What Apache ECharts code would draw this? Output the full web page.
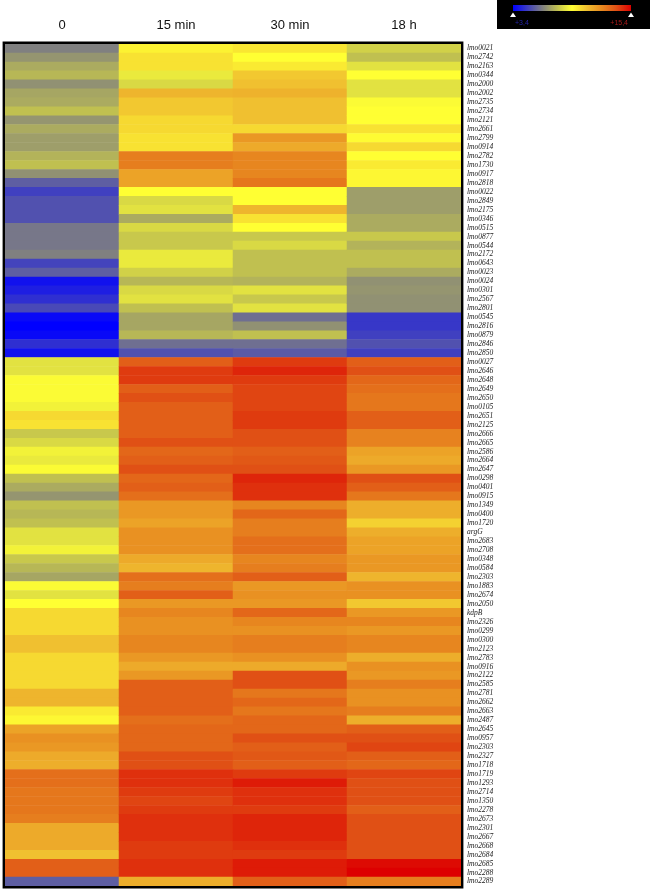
<!DOCTYPE html>
<html>
<head>
<meta charset="utf-8">
<script src="https://cdn.jsdelivr.net/npm/echarts@6/dist/echarts.min.js"></script>
<style>
  html, body { margin: 0; padding: 0; background: #fff; }
  #chart { width: 650px; height: 892px; }
</style>
</head>
<body>
<div id="chart"></div>
<script>
// time points (columns)
const times = ['0', '15 min', '30 min', '18 h'];

// genes (rows, top to bottom)
const genes = [
  'lmo0021', 'lmo2742', 'lmo2163', 'lmo0344', 'lmo2000', 'lmo2002', 'lmo2735', 'lmo2734', 'lmo2121', 'lmo2661',
  'lmo2799', 'lmo0914', 'lmo2782', 'lmo1730', 'lmo0917', 'lmo2818', 'lmo0022', 'lmo2849', 'lmo2175', 'lmo0346',
  'lmo0515', 'lmo0877', 'lmo0544', 'lmo2172', 'lmo0643', 'lmo0023', 'lmo0024', 'lmo0301', 'lmo2567', 'lmo2801',
  'lmo0545', 'lmo2816', 'lmo0879', 'lmo2846', 'lmo2850', 'lmo0027', 'lmo2646', 'lmo2648', 'lmo2649', 'lmo2650',
  'lmo0105', 'lmo2651', 'lmo2125', 'lmo2666', 'lmo2665', 'lmo2586', 'lmo2664', 'lmo2647', 'lmo0298', 'lmo0401',
  'lmo0915', 'lmo1349', 'lmo0400', 'lmo1720', 'argG', 'lmo2683', 'lmo2708', 'lmo0348', 'lmo0584', 'lmo2303',
  'lmo1883', 'lmo2674', 'lmo2050', 'kdpB', 'lmo2326', 'lmo0299', 'lmo0300', 'lmo2123', 'lmo2783', 'lmo0916',
  'lmo2122', 'lmo2585', 'lmo2781', 'lmo2662', 'lmo2663', 'lmo2487', 'lmo2645', 'lmo0957', 'lmo2303', 'lmo2327',
  'lmo1718', 'lmo1719', 'lmo1293', 'lmo2714', 'lmo1350', 'lmo2278', 'lmo2673', 'lmo2301', 'lmo2667', 'lmo2668',
  'lmo2684', 'lmo2685', 'lmo2288', 'lmo2289'
];

// expression values per time point (scale +3,4 .. +15,4)
const t0 = [
  6.4, 6.9, 7.4, 7.7, 6.8, 7.3, 7.4, 7.9, 6.9, 7.4,
  7.1, 7.1, 7.6, 7.9, 6.8, 5.6, 4.9, 5.3, 5.3, 5.3,
  6.2, 6.2, 6.2, 6.4, 5.0, 5.6, 3.8, 4.1, 4.5, 5.1,
  3.6, 3.4, 3.6, 4.5, 3.8, 8.7, 8.7, 9.3, 9.3, 9.3,
  9.1, 10.3, 10.1, 8.1, 8.5, 9.1, 8.9, 9.3, 7.9, 7.4,
  6.9, 7.9, 7.7, 7.9, 8.7, 8.7, 9.1, 8.1, 7.7, 7.3,
  9.3, 8.7, 9.4, 10.3, 10.3, 10.3, 10.9, 10.9, 10.3, 10.3,
  10.3, 10.3, 11.2, 11.2, 9.9, 9.6, 11.7, 12.2, 12.0, 11.5,
  11.4, 13.1, 13.1, 12.9, 12.9, 12.9, 12.7, 11.5, 11.5, 11.5,
  10.9, 13.5, 13.5, 5.6
];
const t15 = [
  9.7, 10.1, 10.1, 8.9, 8.5, 11.2, 10.7, 10.7, 10.3, 10.3,
  10.1, 10.1, 12.7, 12.7, 11.7, 11.7, 9.4, 8.5, 8.7, 7.4,
  8.5, 8.1, 8.1, 8.9, 8.9, 8.3, 7.7, 8.5, 8.7, 7.9,
  7.3, 7.3, 7.7, 6.0, 5.3, 13.5, 14.3, 14.3, 13.5, 13.9,
  13.5, 13.5, 13.5, 13.5, 13.9, 13.3, 13.5, 13.9, 13.3, 13.5,
  13.1, 12.0, 12.0, 11.7, 12.2, 12.2, 12.2, 11.5, 11.2, 13.1,
  12.7, 13.5, 12.0, 12.5, 12.2, 12.2, 12.5, 12.5, 12.0, 11.5,
  12.0, 13.5, 13.5, 13.5, 13.5, 13.1, 13.3, 13.3, 13.3, 13.9,
  13.9, 14.5, 14.5, 14.3, 14.1, 14.3, 14.5, 14.5, 14.5, 14.3,
  14.3, 14.5, 14.5, 11.4
];
const t30 = [
  10.0, 9.4, 9.9, 10.7, 10.9, 11.3, 10.9, 10.9, 10.9, 10.3,
  12.0, 11.5, 12.5, 12.5, 12.5, 12.9, 9.4, 9.4, 11.2, 10.1,
  9.4, 8.1, 8.5, 7.9, 7.9, 7.9, 7.6, 8.7, 8.1, 8.7,
  6.0, 6.8, 7.9, 6.0, 5.5, 14.3, 14.7, 14.3, 14.1, 14.1,
  14.1, 14.3, 14.3, 13.9, 13.9, 13.5, 13.7, 13.9, 14.7, 14.5,
  14.5, 12.5, 13.3, 12.7, 12.7, 13.1, 13.1, 12.5, 12.7, 13.5,
  12.0, 12.2, 12.0, 13.3, 12.5, 12.2, 12.7, 12.7, 12.2, 11.5,
  13.9, 13.9, 12.9, 13.3, 12.9, 13.3, 13.3, 13.9, 13.5, 13.7,
  13.5, 14.3, 14.9, 14.5, 14.5, 14.3, 14.7, 14.7, 14.7, 14.5,
  14.3, 14.9, 14.9, 13.5
];
const t18h = [
  8.3, 7.9, 8.7, 9.4, 8.7, 8.7, 9.3, 9.4, 9.4, 10.1,
  9.5, 10.3, 9.4, 9.9, 9.6, 9.6, 7.1, 7.1, 7.1, 7.4,
  7.4, 8.1, 7.6, 7.9, 7.9, 7.4, 6.8, 6.9, 6.8, 6.8,
  4.7, 4.7, 4.9, 5.3, 4.9, 13.5, 13.9, 13.3, 13.1, 12.9,
  12.9, 13.5, 13.5, 12.6, 12.6, 11.7, 11.5, 12.0, 13.9, 13.5,
  12.9, 11.4, 11.4, 10.5, 11.4, 11.7, 11.7, 12.0, 12.0, 11.2,
  12.2, 12.2, 10.7, 12.0, 12.5, 12.0, 12.5, 12.5, 11.4, 12.2,
  12.0, 12.7, 12.2, 12.2, 12.7, 11.4, 13.5, 13.9, 14.1, 13.5,
  13.3, 14.1, 13.9, 13.9, 13.9, 13.5, 13.9, 13.9, 13.9, 13.9,
  13.9, 15.2, 15.4, 12.7
];

const scaleMin = 3.4;
const scaleMax = 15.4;
const scaleColors = ['#0000ff', '#4040c0', '#808080', '#c0c050', '#ffff33', '#f0c030', '#e88a20', '#e05015', '#dd0000'];

const columns = [t0, t15, t30, t18h];
const heatData = [];
columns.forEach((col, x) => {
  col.forEach((v, y) => heatData.push([x, y, v]));
});

const W = 650, H = 892;
const GRID = { left: 5, right: 189, top: 44, bottom: 6 };

const chart = echarts.init(document.getElementById('chart'));

const option = {
  animation: false,
  backgroundColor: '#fff',
  grid: { left: GRID.left, right: GRID.right, top: GRID.top, bottom: GRID.bottom },
  xAxis: {
    type: 'category',
    position: 'top',
    data: times,
    axisLine: { show: false },
    axisTick: { show: false },
    splitLine: { show: false },
    axisLabel: {
      fontFamily: 'Liberation Sans, Arial, sans-serif',
      fontSize: 13,
      color: '#111',
      margin: 12
    }
  },
  yAxis: {
    type: 'category',
    position: 'right',
    inverse: true,
    data: genes,
    axisLine: { show: false },
    axisTick: { show: false },
    splitLine: { show: false },
    axisLabel: {
      interval: 0,
      fontFamily: 'Liberation Serif, Times New Roman, serif',
      fontStyle: 'italic',
      fontSize: 7.5,
      color: '#222',
      margin: 6
    }
  },
  visualMap: {
    show: false,
    type: 'continuous',
    min: scaleMin,
    max: scaleMax,
    dimension: 2,
    inRange: { color: scaleColors }
  },
  series: [{
    type: 'heatmap',
    data: heatData,
    itemStyle: { borderWidth: 0 },
    emphasis: { disabled: true }
  }],
  graphic: [
    // frame around the heatmap
    {
      type: 'rect',
      z: 100,
      shape: {
        x: GRID.left - 1.2,
        y: GRID.top - 1.2,
        width: W - GRID.left - GRID.right + 2.4,
        height: H - GRID.top - GRID.bottom + 2.4
      },
      style: { fill: 'none', stroke: '#000', lineWidth: 2.4 }
    },
    // colour key (top right)
    {
      type: 'group',
      left: 497,
      top: 0,
      children: [
        { type: 'rect', shape: { x: 0, y: 0, width: 153, height: 29 }, style: { fill: '#000' } },
        {
          type: 'rect',
          shape: { x: 16, y: 5, width: 118, height: 6 },
          style: {
            fill: new echarts.graphic.LinearGradient(0, 0, 1, 0,
              scaleColors.map((c, i) => ({ offset: i / (scaleColors.length - 1), color: c })))
          }
        },
        { type: 'polygon', shape: { points: [[16, 12.5], [13, 17], [19, 17]] }, style: { fill: '#fff' } },
        { type: 'polygon', shape: { points: [[134, 12.5], [131, 17], [137, 17]] }, style: { fill: '#fff' } },
        {
          type: 'text', x: 18, y: 23,
          style: { text: '+3,4', fill: '#2424a8', font: '7px Liberation Sans, Arial, sans-serif', verticalAlign: 'middle' }
        },
        {
          type: 'text', x: 131, y: 23,
          style: { text: '+15,4', fill: '#a81a1a', font: '7px Liberation Sans, Arial, sans-serif', align: 'right', verticalAlign: 'middle' }
        }
      ]
    }
  ]
};

chart.setOption(option);
</script>
</body>
</html>
